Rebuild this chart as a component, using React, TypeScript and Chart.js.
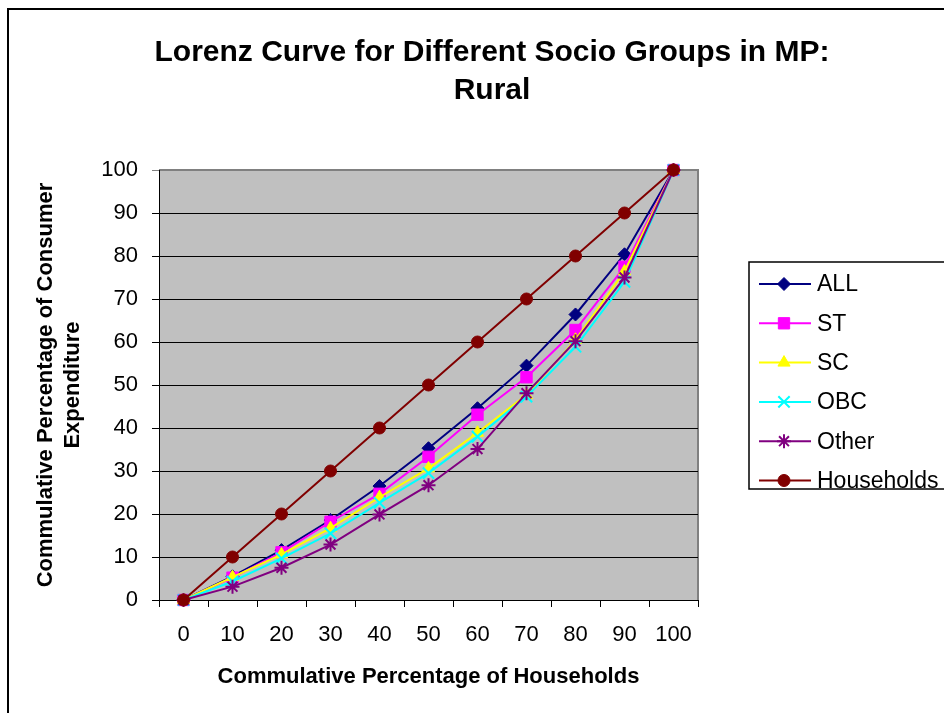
import React, { useEffect, useRef } from 'react';
import { Chart, registerables } from 'chart.js';
import { drawPoint } from 'chart.js/helpers';

Chart.register(...registerables);

const categories = ['0', '10', '20', '30', '40', '50', '60', '70', '80', '90', '100'];
const allValues = [0, 5.5, 11.6, 18.6, 26.5, 35.3, 44.6, 54.5, 66.4, 80.4, 100];
const stValues = [0, 5.2, 11.1, 18.2, 24.7, 33.3, 43.1, 51.8, 62.8, 77.5, 100];
const scValues = [0, 5.3, 10.6, 16.7, 23.9, 30.6, 38.9, 47.7, 60.5, 76.4, 100];
const obcValues = [0, 4.3, 9.7, 15.5, 22.6, 29.5, 38.0, 47.3, 58.9, 74.0, 100];
const otherValues = [0, 3.1, 7.5, 12.9, 19.9, 26.7, 35.1, 48.1, 60.2, 75.0, 100];
const householdValues = [0, 10, 20, 30, 40, 50, 60, 70, 80, 90, 100];

const titleLines = ['Lorenz Curve for Different Socio Groups in MP:', 'Rural'];
const xTitle = 'Commulative Percentage of Households';
const yTitle = ['Commulative Percentage of Consumer', 'Expenditure'];

const FONT = '"Liberation Sans", Arial, Helvetica, sans-serif';

const seriesDefs = [
  { label: 'ALL', data: allValues, color: '#000080', style: 'rectRot', radius: 6.5, order: 5 },
  { label: 'ST', data: stValues, color: '#FF00FF', style: 'rect', radius: 8, order: 4 },
  { label: 'SC', data: scValues, color: '#FFFF00', style: 'triangle', radius: 7, order: 3 },
  { label: 'OBC', data: obcValues, color: '#00FFFF', style: 'crossRot', radius: 8, order: 2 },
  { label: 'Other', data: otherValues, color: '#800080', style: 'star', radius: 7, order: 1 },
  { label: 'Households', data: householdValues, color: '#800000', style: 'circle', radius: 6, order: 0 },
];

const plotBgPlugin = {
  id: 'plotBg',
  beforeDraw(chart: any) {
    const { ctx, chartArea: a } = chart;
    ctx.save();
    ctx.fillStyle = '#C0C0C0';
    ctx.fillRect(a.left, a.top, a.right - a.left, a.bottom - a.top);
    ctx.strokeStyle = '#808080';
    ctx.lineWidth = 2;
    ctx.beginPath();
    ctx.moveTo(a.left, a.top);
    ctx.lineTo(a.right, a.top);
    ctx.lineTo(a.right, a.bottom);
    ctx.stroke();
    ctx.restore();
  },
};

const headerPlugin = {
  id: 'header',
  afterDraw(chart: any) {
    const { ctx } = chart;
    ctx.save();
    ctx.fillStyle = '#000';
    ctx.font = `bold 30px ${FONT}`;
    ctx.textAlign = 'center';
    ctx.textBaseline = 'middle';
    titleLines.forEach((t, i) => ctx.fillText(t, 492, 53 + i * 38));
    ctx.restore();
  },
};

const legendPlugin = {
  id: 'customLegend',
  afterDraw(chart: any) {
    const { ctx, chartArea: a } = chart;
    const left = a.right + 51;
    const top = 262;
    const bottom = 489;
    ctx.save();
    ctx.fillStyle = '#fff';
    ctx.fillRect(left, top, 960 - left, bottom - top);
    ctx.strokeStyle = '#000';
    ctx.lineWidth = 1.5;
    ctx.strokeRect(left, top, 960 - left, bottom - top);
    chart.data.datasets.forEach((ds: any, i: number) => {
      const y = 284 + i * 39.3;
      ctx.strokeStyle = ds.borderColor;
      ctx.lineWidth = 2;
      ctx.beginPath();
      ctx.moveTo(left + 10, y);
      ctx.lineTo(left + 62, y);
      ctx.stroke();
      ctx.fillStyle = ds.pointBackgroundColor;
      ctx.strokeStyle = ds.pointBorderColor;
      ctx.lineWidth = ds.pointBorderWidth;
      drawPoint(ctx, {
        pointStyle: ds.pointStyle,
        radius: ds.pointRadius,
        borderWidth: ds.pointBorderWidth,
        rotation: 0,
      } as any, left + 35, y);
      ctx.fillStyle = '#000';
      ctx.font = `23px ${FONT}`;
      ctx.textAlign = 'left';
      ctx.textBaseline = 'middle';
      ctx.fillText(ds.label, left + 68, y + 1);
    });
    ctx.restore();
  },
};

export default function App() {
  const ref = useRef<HTMLCanvasElement | null>(null);

  useEffect(() => {
    if (!ref.current) return;
    const chart = new Chart(ref.current, {
      type: 'line',
      data: {
        labels: categories,
        datasets: seriesDefs.map((s) => ({
          label: s.label,
          data: s.data,
          borderColor: s.color,
          backgroundColor: s.color,
          pointBackgroundColor: s.color,
          pointBorderColor: s.color,
          pointStyle: s.style as any,
          pointRadius: s.radius,
          pointBorderWidth: s.style === 'crossRot' || s.style === 'star' ? 2 : 1,
          borderWidth: 2,
          tension: 0,
          fill: false,
          clip: false as any,
          order: s.order,
        })),
      },
      options: {
        animation: false,
        responsive: false,
        maintainAspectRatio: false,
        layout: { padding: { left: 0, top: 170, right: 246, bottom: 0 } },
        plugins: {
          legend: { display: false },
          title: { display: false },
          tooltip: { enabled: false },
        },
        scales: {
          x: {
            type: 'category',
            offset: true,
            afterFit: (scale: any) => {
              scale.height = 113;
            },
            grid: {
              offset: true,
              drawOnChartArea: false,
              drawTicks: true,
              tickLength: 7,
              color: '#000',
            },
            border: { display: true, color: '#000', width: 1 },
            ticks: {
              color: '#000',
              padding: 15,
              maxRotation: 0,
              autoSkip: false,
              font: { family: FONT, size: 22 },
            },
            title: {
              display: true,
              text: xTitle,
              color: '#000',
              font: { family: FONT, size: 22, weight: 'bold', lineHeight: 1.2 },
              padding: { top: 0, bottom: 23 },
            },
          },
          y: {
            min: 0,
            max: 100,
            afterFit: (scale: any) => {
              scale.width = 159;
            },
            grid: {
              color: (c: any) => (c.tick && c.tick.value === 100 ? '#808080' : '#000'),
              lineWidth: 1,
              tickLength: 7,
            },
            border: { display: true, color: '#000', width: 1 },
            ticks: {
              stepSize: 10,
              color: '#000',
              padding: 14,
              font: { family: FONT, size: 22 },
            },
            title: {
              display: true,
              text: yTitle,
              color: '#000',
              font: { family: FONT, size: 22, weight: 'bold', lineHeight: 1.25 },
              padding: { top: 32, bottom: 0 },
            },
          },
        },
      },
      plugins: [plotBgPlugin, headerPlugin, legendPlugin],
    });
    return () => chart.destroy();
  }, []);

  return (
    <div style={{ position: 'fixed', left: 0, top: 0, width: 944, height: 713, overflow: 'hidden', background: '#fff' }}>
      <div
        style={{
          position: 'absolute',
          left: 7,
          top: 8,
          width: 1000,
          height: 800,
          border: '2px solid #000',
          boxSizing: 'border-box',
        }}
      />
      <canvas ref={ref} width={944} height={713} style={{ position: 'absolute', left: 0, top: 0, width: 944, height: 713 }} />
    </div>
  );
}
